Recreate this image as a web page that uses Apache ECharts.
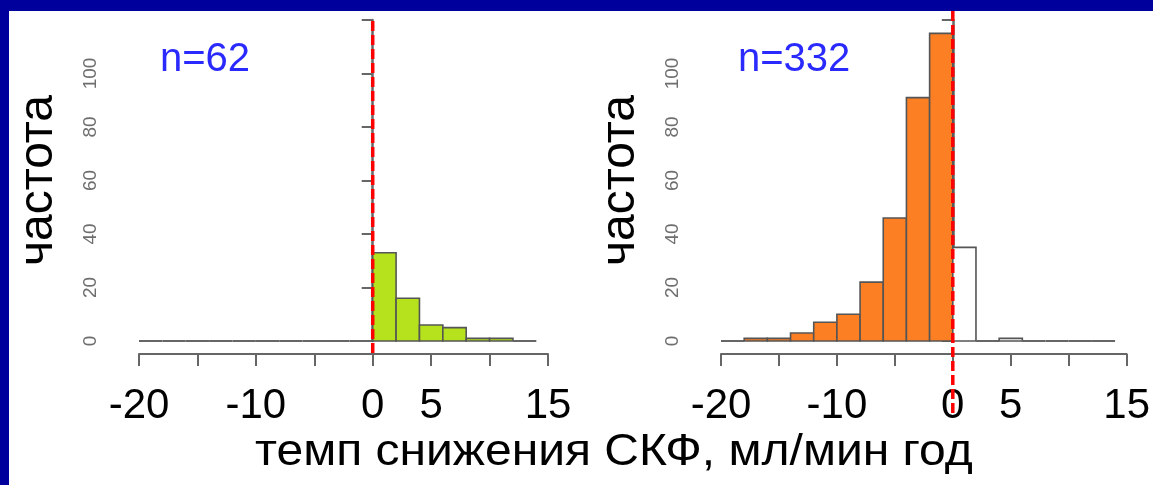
<!DOCTYPE html>
<html>
<head>
<meta charset="utf-8">
<script src="https://cdn.jsdelivr.net/npm/echarts@6/dist/echarts.min.js"></script>
<style>
  html, body { margin: 0; padding: 0; background: #fff; }
  #chart { width: 1153px; height: 485px; }
</style>
</head>
<body>
<div id="chart"></div>
<script>
// histogram bin edges (ml/min per year)
var binEdges = [-20, -18, -16, -14, -12, -10, -8, -6, -4, -2, 0, 2, 4, 6, 8, 10, 12, 14];
// counts per bin, left panel (n=62) and right panel (n=332)
var leftCounts  = [0, 0, 0, 0, 0, 0, 0, 0, 0, 0, 33, 16, 6, 5, 1, 1, 0];
var rightCounts = [0, 1, 1, 3, 7, 10, 22, 46, 91, 115, 35, 0, 1, 0, 0, 0, 0];
var xTickLabels = ["-20", "-10", "0", "5", "15"];
var yTickLabels = ["0", "20", "40", "60", "80", "100"];
var refLineX = [0];

var chart = echarts.init(document.getElementById("chart"));
var font = "Liberation Sans, Arial, sans-serif";

function binData(counts) {
  var out = [];
  for (var i = 0; i < counts.length; i++) {
    out.push([binEdges[i], binEdges[i + 1], counts[i]]);
  }
  return out;
}

function barRenderer(fillFn) {
  return function(params, api) {
    var a = api.coord([api.value(0), api.value(2)]);
    var b = api.coord([api.value(1), 0]);
    if (api.value(2) === 0) {
      return {
        type: "line",
        shape: { x1: a[0], y1: b[1], x2: b[0], y2: b[1] },
        style: { stroke: "#666", lineWidth: 2 }
      };
    }
    return {
      type: "rect",
      shape: { x: a[0], y: a[1], width: b[0] - a[0], height: b[1] - a[1] },
      style: { fill: fillFn(api.value(0), api.value(1)), stroke: "#555", lineWidth: 1.6 }
    };
  };
}

function refRenderer(extTop, extBottom) {
  return function(params, api) {
    var p = api.coord([api.value(0), 0]);
    var cs = params.coordSys;
    return {
      type: "line",
      z2: 100,
      shape: { x1: p[0], y1: cs.y - extTop, x2: p[0], y2: cs.y + cs.height + extBottom },
      style: { stroke: "#ff0000", lineWidth: 3.5, lineDash: [10, 4] }
    };
  };
}

function xAxisFor(idx) {
  return {
    type: "value", gridIndex: idx, min: -20, max: 15, interval: 5,
    offset: 13,
    axisLine: { onZero: false, lineStyle: { color: "#666", width: 2 } },
    axisTick: { length: 12, lineStyle: { color: "#666", width: 2 } },
    splitLine: { show: false },
    axisLabel: {
      margin: 31, fontSize: 42, color: "#000", fontFamily: font,
      formatter: function(v) {
        var s = String(v);
        return xTickLabels.indexOf(s) >= 0 ? s : "";
      }
    }
  };
}

function yAxisFor(idx) {
  return {
    type: "value", gridIndex: idx, min: 0, max: 120, interval: 20,
    offset: 16.5,
    name: "частота", nameLocation: "middle", nameRotate: 90, nameGap: 60,
    nameTextStyle: { fontSize: 48, color: "#000", fontFamily: font },
    axisLine: { show: true, lineStyle: { color: "#666", width: 2.5 } },
    axisTick: { show: true, length: 11, lineStyle: { color: "#666", width: 2 } },
    splitLine: { show: false },
    axisLabel: {
      rotate: 90, margin: 22, fontSize: 19, color: "#6e6e6e", fontFamily: font,
      formatter: function(v) {
        var s = String(v);
        return yTickLabels.indexOf(s) >= 0 ? s : "";
      }
    }
  };
}

var option = {
  backgroundColor: "#fff",
  animation: false,
  title: [
    { text: "n=62", left: 155, top: 35, textStyle: { fontSize: 40, fontWeight: "normal", color: "#2a2aff", fontFamily: font } },
    { text: "n=332", left: 733, top: 35, textStyle: { fontSize: 40, fontWeight: "normal", color: "#2a2aff", fontFamily: font } }
  ],
  graphic: [
    { type: "rect", shape: { x: 0, y: 0, width: 1153, height: 11 }, style: { fill: "#00009c" }, z: 0 },
    { type: "rect", shape: { x: 0, y: 0, width: 9, height: 485 }, style: { fill: "#00009c" }, z: 0 },
    {
      type: "text", x: 255, y: 430, scaleX: 1.067, z: 5,
      style: {
        text: "темп снижения СКФ, мл/мин год",
        font: "45px " + font, fill: "#000", align: "left", verticalAlign: "top"
      }
    }
  ],
  grid: [
    { left: 139, right: 605, top: 20, bottom: 144 },
    { left: 721, right: 22, top: 20, bottom: 144 }
  ],
  xAxis: [xAxisFor(0), xAxisFor(1)],
  yAxis: [yAxisFor(0), yAxisFor(1)],
  series: [
    {
      type: "custom", xAxisIndex: 0, yAxisIndex: 0,
      data: binData(leftCounts),
      renderItem: barRenderer(function() { return "#b5e21d"; })
    },
    {
      type: "custom", xAxisIndex: 1, yAxisIndex: 1,
      data: binData(rightCounts),
      renderItem: barRenderer(function(s, e) { return e <= 0 ? "#fd7f23" : "#ffffff"; })
    },
    {
      type: "custom", xAxisIndex: 0, yAxisIndex: 0, z: 10,
      data: refLineX.map(function(v) { return [v]; }),
      renderItem: refRenderer(-1, 16)
    },
    {
      type: "custom", xAxisIndex: 1, yAxisIndex: 1, z: 10,
      data: refLineX.map(function(v) { return [v]; }),
      renderItem: refRenderer(9, 76)
    }
  ]
};

chart.setOption(option);
</script>
</body>
</html>
